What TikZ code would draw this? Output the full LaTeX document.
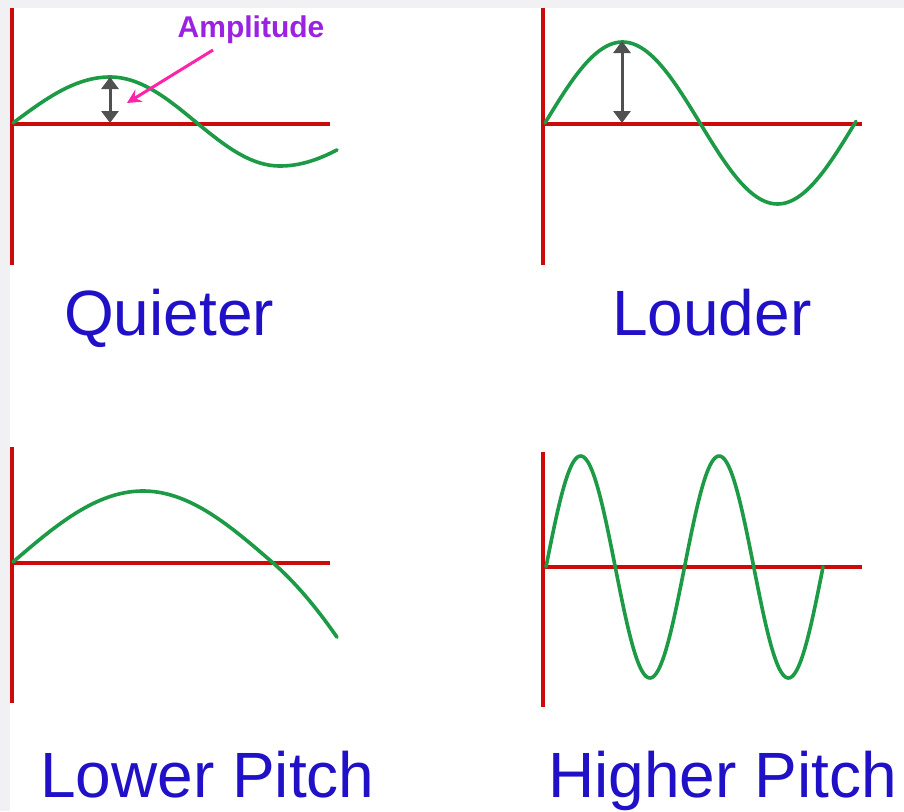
\documentclass[tikz,border=0pt]{standalone}
\usepackage{fontspec}
\setmainfont{Liberation Sans}
\usetikzlibrary{arrows.meta}
\definecolor{axisred}{HTML}{CC0A0A}
\definecolor{wavegreen}{HTML}{1C9A45}
\definecolor{labelblue}{HTML}{2010C8}
\definecolor{amppurple}{HTML}{9B22E0}
\definecolor{amppink}{HTML}{FF22AA}
\definecolor{arrgray}{HTML}{505050}
\definecolor{bggray}{HTML}{F1F1F4}
\tikzset{
  axisline/.style={draw=axisred, line width=3.6pt},
  wave/.style={draw=wavegreen, line width=3.6pt, line cap=round, line join=round},
  amparrow/.style={draw=arrgray, line width=3pt, {Triangle[length=12pt,width=17pt]}-{Triangle[length=12pt,width=17pt]}},
  biglabel/.style={text=labelblue, font=\fontsize{64}{72}\selectfont, inner sep=0pt, anchor=base west},
}
\begin{document}
\begin{tikzpicture}[x=1pt,y=-1pt]
\useasboundingbox (0,0) rectangle (904,811);
\fill[white] (0,0) rectangle (904,811);
\fill[bggray] (0,0) rectangle (904,8);
\fill[bggray] (0,0) rectangle (10,811);

% ---- top left: quieter
\draw[axisline] (12,8) -- (12,265);
\draw[axisline] (12,124) -- (330,124);
\draw[wave] plot[domain=13:110, samples=40] (\x, {123-46*sin(90/97*(\x-13))})
  -- plot[domain=110:197, samples=40] (\x, {123-46*cos(90/87*(\x-110))})
  -- plot[domain=197:280, samples=40] (\x, {123+43*sin(90/83*(\x-197))})
  -- plot[domain=280:337, samples=30] (\x, {123+43*cos(90/100*(\x-280))});
\coordinate (qa) at (110,77);
\coordinate (qb) at (110,123);
\draw[amparrow] (qa) -- (qb);
\node[text=amppurple, font=\bfseries\fontsize{30}{34}\selectfont, inner sep=0pt, anchor=base] (amp) at (251,37) {Amplitude};
\coordinate (ps) at (213,50);
\coordinate (pe) at (127,103);
\draw[draw=amppink, line width=3pt, -{Stealth[length=14pt,width=14pt]}] (ps) -- (pe);
\node[biglabel] (quiet) at (64,335) {Quieter};

% ---- top right: louder
\draw[axisline] (543,8) -- (543,265);
\draw[axisline] (543,124) -- (862,124);
\draw[wave] plot[domain=545:856, samples=120] (\x, {123-81*sin(1.16129*(\x-545))});
\coordinate (la) at (622,41);
\coordinate (lb) at (622,123);
\draw[amparrow] (la) -- (lb);
\node[biglabel] (loud) at (612,335) {Louder};

% ---- bottom left: lower pitch
\draw[axisline] (12,447) -- (12,703);
\draw[axisline] (12,563) -- (330,563);
\draw[wave] plot[domain=13:143, samples=50] (\x, {562-71*sin(90/130*(\x-13))})
  -- plot[domain=143:272, samples=50] (\x, {562-71*cos(90/129*(\x-143))})
  -- plot[domain=272:337, samples=30] (\x, {562+0.865*(\x-272)+0.0045*(\x-272)*(\x-272)});
\node[biglabel] (lower) at (40,797) {Lower Pitch};

% ---- bottom right: higher pitch
\draw[axisline] (543,452) -- (543,707);
\draw[axisline] (543,567) -- (862,567);
\draw[wave] plot[domain=546:823, samples=200] (\x, {567-111*sin(2.599278*(\x-546))});
\node[biglabel] (higher) at (548,797) {Higher Pitch};
\end{tikzpicture}
\end{document}
